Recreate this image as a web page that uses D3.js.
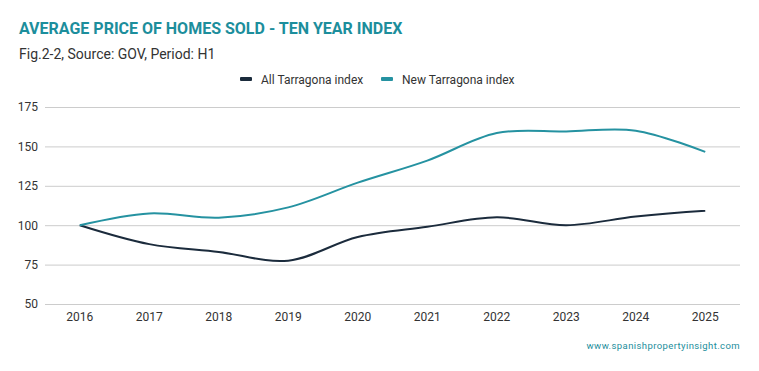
<!DOCTYPE html>
<html lang="en">
<head>
<meta charset="utf-8">
<title>ten year index</title>
<script src="https://d3js.org/d3.v7.min.js"></script>
<style>
  body{margin:0;background:#fff;font-family:Roboto, sans-serif;}
</style>
</head>
<body>
<div id="chart"></div>
<script>
// data
var years = ["2016","2017","2018","2019","2020","2021","2022","2023","2024","2025"]
var allTarragona = [100, 88, 83, 77.5, 92.5, 99, 105, 100, 105.5, 109.2]
var newTarragona = [100, 107.5, 104.8, 111.3, 127, 141, 158.5, 159.5, 160, 146.5]
var yTicks = [50, 75, 100, 125, 150, 175]
var seriesNames = ["All Tarragona index", "New Tarragona index"]
var colors = ["#1b2b3c", "#2592a1"]

var w = 759, h = 371
var plotLeft = 45, plotRight = 740, plotTop = 107, plotBottom = 304

var svg = d3.select("#chart").append("svg")
    .attr("width", w).attr("height", h)

// titles
svg.append("text")
    .attr("x", 19).attr("y", 34)
    .attr("fill", "#1c8e9c")
    .attr("font-size", 16).attr("font-weight", 700)
    .text("AVERAGE PRICE OF HOMES SOLD - TEN YEAR INDEX")
svg.append("text")
    .attr("x", 19).attr("y", 59)
    .attr("fill", "#333")
    .attr("font-size", 14)
    .text("Fig.2-2, Source: GOV, Period: H1")

var xScale = d3.scaleBand().domain(years).range([plotLeft, plotRight])
var yScale = d3.scaleLinear().domain([50, 175]).range([plotBottom, plotTop])

// grid + y labels
var yAxis = d3.axisLeft(yScale).tickValues(yTicks).tickSize(-(plotRight - plotLeft)).tickPadding(7)
var gy = svg.append("g").attr("transform", "translate(" + plotLeft + ",0)").call(yAxis)
gy.select(".domain").remove()
gy.selectAll("line").attr("stroke", "#cccccc")
gy.selectAll("text").attr("font-family", "Roboto").attr("font-size", 12).attr("fill", "#333")

var xAxis = d3.axisBottom(xScale).tickSize(0).tickPadding(8)
var gx = svg.append("g").attr("transform", "translate(0," + plotBottom + ")").call(xAxis)
gx.select(".domain").remove()
gx.selectAll("text").attr("font-family", "Roboto").attr("font-size", 12).attr("fill", "#333")

var line = d3.line()
    .x(function(d, i){ return xScale(years[i]) + xScale.bandwidth() / 2 })
    .y(function(d){ return yScale(d) })
    .curve(d3.curveCatmullRom.alpha(0.5))

;[allTarragona, newTarragona].forEach(function(s, i){
    svg.append("path")
        .attr("d", line(s))
        .attr("fill", "none")
        .attr("stroke", colors[i])
        .attr("stroke-width", 2)
})

// legend
var legendX = [240, 381]
seriesNames.forEach(function(n, i){
    var g = svg.append("g").attr("transform", "translate(" + legendX[i] + ",79)")
    g.append("rect").attr("x", 0).attr("y", -2).attr("width", 12).attr("height", 4)
        .attr("rx", 1).attr("fill", colors[i])
    g.append("text").attr("x", 21).attr("y", 4.5)
        .attr("font-size", 12).attr("fill", "#333").text(n)
})

svg.append("text")
    .attr("x", 740).attr("y", 349)
    .attr("text-anchor", "end")
    .attr("fill", "#1c8e9c")
    .attr("font-size", 9.5)
    .attr("letter-spacing", 0.4)
    .text("www.spanishpropertyinsight.com")
</script>
</body>
</html>
